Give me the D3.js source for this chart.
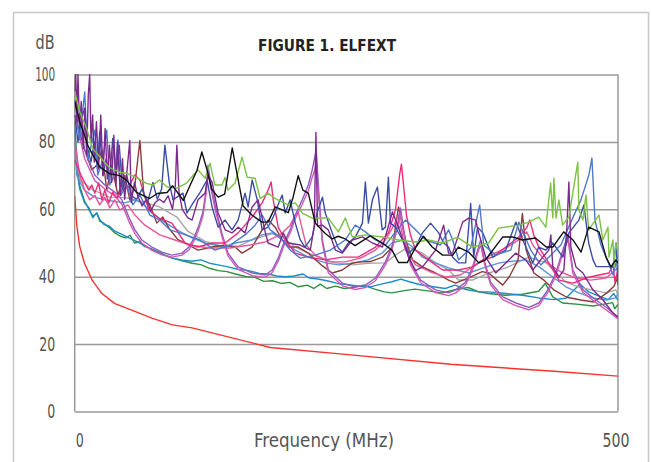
<!DOCTYPE html>
<html><head><meta charset="utf-8">
<script src="https://cdn.jsdelivr.net/npm/d3@7"></script>
<style>
body{margin:0;background:#fff}
text{font-family:'DejaVu Sans Condensed','DejaVu Sans',sans-serif}
</style>
</head><body>
<svg id="c" width="651" height="462"></svg>
<script>
// ---- data: [frequency MHz, dB] ----
const xTicks = [0, 500];
const yTicks = [0, 20, 40, 60, 80, 100];

const red = [[0,64],[2,55],[4.6,49],[9,44],[16,39],[25,35],[37,32],[53,30],[71,27.7],[90,25.7],[108,24.8],[180,19],[254,16.8],[346,14],[438,12],[500,10.5]];

const green = [[0,86],[1.8,76],[4.6,67],[9,62.5],[13,60],[16.6,58],[20.3,58.8],[23,56.5],[27,55.8],[32,54.5],[37,53],[42,52],[47,51.5],[51,52.3],[55,50],[60,50.4],[64,49],[69,48.5],[76,47.5],[83,46.5],[90,45.5],[98,44.8],[108,44],[116,43.6],[124,42.5],[132,41.8],[140,41.5],[148,40.8],[158,40],[166,39.8],[174,38.6],[182,38.8],[190,38],[198,38.3],[206,37],[214,37.5],[220,36.5],[226,37.8],[232,36.5],[240,37.2],[248,36.5],[256,36.8],[266,37.5],[276,36.3],[285,35.5],[292,35.2],[302,35.8],[313,36.3],[325,35.8],[338,35.2],[351,36.2],[362,36.8],[372,35.5],[381,35],[396,34.5],[412,34.8],[427,35.7],[433,38],[440,34],[449,32.2],[464,31.8],[477,31.3],[486,31.8],[495,32.3],[497,30.5],[500,31.8]];

const teal = [[0,83],[1.8,72],[4.6,66],[9,62],[13,60.5],[16.6,57.5],[20.3,59],[23,57],[27,55.5],[32,55],[37,53.5],[42,52.8],[48,51.8],[55,50.8],[62,49.6],[69,48.5],[76,47.2],[83,46.3],[90,45.5],[98,45],[108,44.6],[116,45],[124,44],[132,43.5],[140,43],[150,42.2],[160,41.8],[170,41],[178,40.8],[186,40.2],[194,40],[202,40.2],[210,40.8],[216,39.6],[224,39.3],[232,38.8],[242,38],[252,37.6],[262,37.2],[272,37],[282,37.8],[292,38.5],[300,39.3],[308,38.5],[318,37.6],[330,37],[341,36.5],[350,37.5],[360,36.2],[372,35.5],[381,35.5],[397,35],[412,34.5],[427,33.7],[441,33.2],[452,33.6],[465,37.8],[473,35.5],[482,34.3],[491,33.2],[496,35],[500,33]];

const lightblue = [[0,80],[2,70],[4,68.7],[9,65.7],[18,63.6],[28,62.8],[37,62.3],[46,61.9],[55,62.8],[62,61.9],[71,58.9],[80,56.8],[90,54.7],[99,53],[108,51.5],[120,50],[138,48.8],[148,50],[163,50.9],[172,52.4],[182,53],[191,50.9],[203,47.9],[215,45.8],[231,44.1],[243,43.5],[256,44],[270,45],[283,47],[292,50],[302,50.9],[311,48.8],[320,45.8],[332,44.1],[344,42.6],[351,42],[363,41.1],[376,42.6],[391,44.1],[397,44.4],[415,45],[427,43],[440,39.9],[452,37],[464,35.2],[477,33.7],[489,33.1],[498,33.7],[500,35]];

const gray = [[0,78],[5,68.7],[17,65.7],[32,63.6],[48,63.4],[63,62.2],[78,60.7],[94,57.7],[104,53.5],[120,50.5],[138,48.8],[152,49.2],[163,50.9],[182,52.8],[191,51.8],[203,48.8],[215,47],[231,45],[240,44.1],[256,43.5],[270,44],[286,44.1],[295,46.4],[307,48.8],[320,47],[332,44.1],[344,42],[353,39],[366,39],[381,41.1],[397,42.6],[418,45.8],[434,44.1],[443,41.1],[452,38.4],[464,36.9],[476,36.1],[489,35.2],[498,36.1],[500,34.5]];

const brown = [[0,88],[9.2,77.6],[15.7,71.7],[20.3,73.1],[25,77.6],[29.5,65.7],[34,73.1],[39.7,64.2],[46,70.1],[50.7,62.8],[55.4,67.2],[60,80.4],[63.6,64.2],[69.2,61.3],[75.6,55.9],[81,57.7],[87.6,54],[95,51],[101.5,50],[113.5,47.9],[126.4,48.8],[138.4,49.4],[147.6,48.8],[154,47],[163.3,48.8],[172.5,53.9],[178,56.8],[184.5,54.7],[191,50.9],[196.5,48.8],[205.7,48.8],[215,47],[228,43.2],[237,41.1],[246.3,42],[255.5,44.1],[264.8,44.4],[272,44.5],[283.2,45.8],[292.4,48.8],[298,60.7],[304.4,51],[310.9,45],[320.1,42.9],[332.1,41.1],[344.1,39],[350.6,38.1],[362,39.6],[375,41.5],[381,41.1],[393.9,37.5],[400,40],[408,45],[412,58.8],[415.4,48],[422.5,41.1],[431.7,39],[440.9,36.1],[452.9,33.9],[465.8,33.1],[477.8,32.5],[489.8,35.2],[496.3,37.2],[500,40]];

const pink2 = [[0,80.5],[4.6,70.2],[9.2,65.7],[13.8,62.8],[18.5,64.2],[23,61.3],[27.7,63.6],[32.3,60.4],[36.9,62.8],[41.5,59.8],[48.9,61.3],[55.4,58.3],[64.6,55.3],[78.4,52.4],[92.3,50.9],[106,49.4],[124.5,48.5],[143,48.5],[161.4,49.4],[175.3,50.3],[189,52.4],[198.3,55.3],[203,58.3],[205.7,59.2],[208.5,55.3],[213,49.4],[221.4,46.4],[235,44.4],[249,44.4],[263,45.5],[276.8,47.9],[286,50.9],[292.4,54.5],[298,58.3],[304.4,47.9],[313.7,43.5],[327.5,41.4],[341.3,39.9],[355,40.5],[369,43.5],[382.8,46.4],[396.7,48.5],[408.7,50.9],[416,53.3],[421.6,49.4],[433.6,44.4],[447.4,41.4],[461.3,39.6],[475,39],[488.9,39.6],[495.4,41.4],[500,42.6]];

const violet = [[0,92.4],[9.2,77.6],[18.5,70.2],[27.7,67.2],[36.9,65.1],[43.4,62.8],[49.8,57.7],[55.4,53.9],[61.8,50.9],[71,48.8],[80.3,47.3],[89.5,46.4],[98.7,47],[105.2,48.8],[108.9,50.9],[113.5,54.5],[118,59.2],[120.9,65.7],[122.7,73.1],[125.5,67.2],[129.2,61.3],[135.6,52.7],[141.1,47],[150.4,42.9],[163.3,41.1],[175.3,40.5],[181.7,42],[187.3,45.5],[192.8,50.3],[198.3,53.9],[203,58.3],[209.4,62.8],[215,67.2],[218.6,71.7],[222.3,77.6],[225.1,62.8],[227.9,50.9],[233.4,42],[246.3,38.1],[258.3,36.9],[267.5,37.5],[276.8,39.6],[286,44.4],[292.4,49.4],[297,55.3],[299.8,60.4],[303.5,52.4],[309,44.4],[318.3,39],[332.1,36.1],[344.1,35.2],[350.6,36.1],[359.8,38.4],[366.2,42.9],[370.8,47.9],[373.6,50.9],[377.3,44.4],[382.8,38.4],[393.9,34],[405.9,32.2],[417.9,30.9],[427.1,32.2],[435.4,36.1],[442.8,41.1],[449.3,47.9],[453.9,52.4],[458.5,42],[467.7,36.1],[479.7,33.1],[488.9,31],[500,28]];

const pinkviolet = [[0,88],[9.2,75],[18.5,68.5],[27.7,66],[36.9,64],[43.4,61.5],[49.8,56.5],[55.4,52.8],[61.8,50],[71,47.8],[80.3,46.5],[89.5,45.8],[98.7,46.4],[105.2,48],[108.9,50],[113.5,53.5],[118,58],[120.9,64.5],[122.7,71],[125.5,66],[129.2,60],[135.6,51.8],[141.1,46.2],[150.4,42.2],[163.3,40.3],[175.3,39.8],[181.7,41.2],[187.3,44.6],[192.8,49.4],[198.3,53],[203,57.2],[209.4,61.5],[215,65.5],[218.6,69.5],[222.3,73],[225.1,61.5],[227.9,50],[233.4,41.2],[246.3,37.3],[258.3,36.2],[267.5,36.8],[276.8,38.8],[286,43.5],[292.4,48.5],[297,54.5],[299.8,58.5],[303.5,51.5],[309,43.5],[318.3,38.2],[332.1,35.3],[344.1,34.4],[350.6,35.2],[359.8,37.6],[366.2,42],[370.8,47],[373.6,49.5],[377.3,43.6],[382.8,37.6],[393.9,33.2],[405.9,31.4],[417.9,30.2],[427.1,31.4],[435.4,35.3],[442.8,40.3],[449.3,47],[453.9,51],[458.5,41],[467.7,35.3],[479.7,32.3],[488.9,30.2],[500,27.5]];

const hotpink = [[0,74.6],[6.5,69.6],[13,65.7],[15.7,67.2],[18.5,64.8],[22,67.8],[25,62.8],[27.7,65.7],[31.4,61.9],[35,65.1],[38.7,63.4],[43.4,65.7],[49.8,66.6],[55.4,70.2],[60,68.7],[64.6,63.6],[68.3,59.8],[77.5,57.4],[89.5,55.9],[101.5,50],[113.5,48.8],[126.4,50],[138.4,50],[150.4,53],[163.3,57.7],[172.5,61.9],[178,65.7],[180.8,68.1],[182.7,62.8],[187.3,54.7],[193.7,50.9],[203,47],[215,45.8],[230.6,45],[246.3,45.8],[261,45.8],[276.8,48.8],[288.7,53],[295.2,59.8],[299,70.2],[300.7,73.4],[302.6,67.2],[305.3,58.3],[309,52.4],[313.7,47.9],[325.6,45],[338.6,42],[353.3,42],[366.2,42.9],[375.5,45],[384.7,45.8],[396.7,48.8],[408.7,51.8],[416,54.5],[418.8,56.8],[422.5,52.4],[427.1,48.8],[436.3,44.1],[445.6,39],[458.5,38.1],[470.5,39.6],[482.5,40.5],[491.7,41.1],[495.4,43.5],[497.2,38.4],[500,42]];

const darkblue = [[0,88],[3,80],[6,86],[9,90],[12,78],[15,74],[18,80],[21,72],[23,83],[26,70],[29,75],[32,68],[35,81],[38,70],[41,79],[44,66],[48,70],[52,64],[57,63],[62,66],[67,62],[72,68],[76,63],[80,66],[83,79],[87,68],[90.4,62.8],[99.6,64.8],[103.3,58.9],[109,61.9],[115,64.8],[121.8,68.7],[126.4,60.7],[132,54.7],[138.4,56.8],[144.8,53.9],[150.4,56.8],[156.8,64.8],[159.6,60.7],[163.3,68.7],[168,62.8],[172.5,53.9],[178,54.7],[182.7,57.7],[189,62.8],[191,64.2],[193.7,58.9],[198.3,62.8],[203,55.9],[207.6,50.9],[212,48.8],[218.6,51.8],[223,58.9],[228,63.6],[230.6,58.9],[237,53],[242.6,48.5],[246.3,47.3],[251.8,50],[258.3,51.8],[264.8,55.9],[267.5,68.1],[270.3,55.9],[274,62.8],[278.6,66.6],[283,53.9],[286,54.7],[288.7,69.5],[290.6,55.9],[295.2,54.7],[301.7,50.9],[307.2,47],[313.7,48.8],[320,53],[327.5,55.9],[335,53],[339.5,50],[344,48.8],[347.8,45.8],[353.3,44.1],[359.8,44.1],[364.4,61.7],[367.2,45.8],[370.8,54.7],[375.5,53],[384.7,45.8],[396.7,47.9],[406,56.2],[412.4,50.9],[421.6,44.1],[427,48.8],[433.6,47.9],[440,50],[449.3,45.8],[454.8,53],[464,56.8],[468.6,61.3],[473,50],[477,45],[480,43],[489,43],[495.4,43],[498.2,50],[500,37.5]];

const medblue = [[0,92.4],[4.6,80.6],[9.2,94.8],[12,74.6],[18.5,83.5],[21.2,70.2],[25.8,74.6],[29.5,83.5],[32.3,67.2],[36.9,70.2],[39.7,80.6],[42.4,64.2],[48,67.2],[53.5,61.3],[60,64.2],[69.2,58.3],[78.4,56.8],[87.6,53.9],[96.9,53],[115.3,50.9],[129,47.9],[143,49.4],[156.8,52.4],[166,55.3],[172.5,58.3],[179.9,53.9],[189,51.8],[198.3,47.9],[207.6,45.5],[221.4,46.4],[235.2,47.9],[249,50.9],[258.3,55.3],[267.5,53.3],[276.8,50.9],[286,49.4],[295.2,53.3],[304.4,56.8],[313.7,53.9],[322.9,50.9],[336.7,49.4],[344.1,53.9],[347.8,50.9],[353.3,45],[364.4,48.5],[372.7,61.3],[376.4,49.4],[387.5,46.4],[401.3,47.9],[408.7,56.2],[419.7,47.9],[428.9,43.5],[438.2,46.4],[447.4,49.4],[456.6,56.2],[465.9,62.8],[473.2,70.2],[476,75.2],[478.8,56.8],[484.3,49.4],[490.8,44.4],[495.4,40.5],[500,46.4]];

const purple = [[0,95],[1,100],[2,86],[3,100],[4.5,84],[6,92],[8,78],[9.5,90],[11,76],[12.5,94],[13.8,100],[15,80],[16.5,88],[18,74],[20,86],[22,72],[24,88],[26,70],[28,84],[30,69],[32,79],[34,68],[36,82],[38,67],[39.5,80],[42,64],[44,75],[46,63],[48,71],[50.7,80.4],[52,62],[55,68],[58,64],[62,61],[66,63],[70,59.5],[74,62],[78,63],[82,62],[86,64],[90,60],[92.5,66],[94,79],[96,65],[99,60],[104,57.5],[108,56.8],[113.5,62.8],[120,64.8],[122.7,70],[126.4,68.1],[132,58.9],[138.4,53.9],[144.8,53],[150.4,54.7],[156.8,53],[163.3,60.7],[168.8,62.8],[175.3,53.3],[178,50],[187.3,48.8],[191.9,53],[196.5,50],[207.6,49.4],[216.8,47.9],[220.5,55],[222,82.8],[223.5,55],[227.9,55.3],[233.4,53.9],[239.9,47.9],[246.3,47],[255.5,50.9],[264.8,51.8],[274,50],[283.2,48.8],[292.4,59.2],[298,54.7],[307.2,45.8],[313.7,41.8],[320.1,42.9],[332.1,47.9],[339.5,55.3],[344.1,47],[347.8,47],[357,56.2],[362.5,57.4],[369,56.8],[371.8,53],[378.2,45.8],[387.5,41.1],[396.7,44.1],[405.9,47],[415.1,45],[421.6,42],[430.8,45.8],[436.3,47.9],[438.2,52.4],[440,42.9],[445.6,39.9],[450.2,42],[453,55],[454.8,68.1],[456.6,48.8],[461.3,42.9],[467.7,41.1],[476.9,36.1],[486.2,33.1],[495.4,29.2],[500,28]];

const lightgreen = [[0,95],[4.6,89],[11,84],[16.6,78],[26,74.5],[32,72.4],[41.5,71],[48,70.7],[57,69.4],[66,67.7],[72,67.2],[78,68.7],[85,66.6],[94,66.3],[103,67.8],[110.7,70.7],[113.5,71.7],[120,69.2],[124.5,73.7],[129,67.2],[135.6,67.2],[138.4,69.5],[141,65.7],[147.6,67.8],[154,75.5],[158.7,69.5],[166,69.2],[170.7,63.2],[178,64.8],[184.5,63.2],[191,62.2],[196.5,61.3],[203,61.9],[209.4,58.9],[218.6,57.4],[233.4,57.4],[242.6,53.3],[249,57.4],[255.5,51.8],[267.5,52.4],[283,51.8],[298,50.9],[313.7,50.3],[325.6,50.9],[338.6,50],[350.6,51.5],[353,51.5],[366,48.8],[381,50],[390,54.4],[409,55.3],[418,56.2],[427,57.7],[433.6,54.7],[438,67.8],[440,57.4],[441,69.2],[443,57.4],[445.6,62.8],[449,55.3],[454.8,57.7],[463,74],[464,59.8],[467.7,56.8],[470.5,64.2],[473,53.9],[482.5,58.3],[486,50.9],[490.8,54.7],[491.7,45.8],[495.4,50.9],[496.3,42.9],[498,50],[500,47]];

const black = [[0,92],[4.6,86],[9,82],[12,79],[16,76.5],[23,72.6],[32,70.6],[41.5,70],[48,68.5],[57,65],[69,63.2],[76,64.7],[85,65],[90,67],[100,62.6],[106,67],[112.5,71.5],[117,77],[122,71.5],[126,66],[132,63.6],[138,64.5],[145,78.2],[150,69.5],[155,61],[163,58.3],[172.5,56.2],[178,56.2],[184.5,60.7],[191,59.8],[196.5,59],[201,63.6],[205.7,70],[210,65.7],[215,64.8],[221.4,55.9],[230.6,52.8],[237,51.2],[242.6,52],[249,51.2],[258,49.2],[272,52.1],[283,50],[292,47.9],[298,44.2],[306,44.2],[314,48.8],[321,52],[329,48.8],[338.6,46.4],[348,46.4],[353,48.8],[362.5,47.3],[372,44.1],[378,45],[394,51.8],[403,51.8],[412,50.9],[424,51.5],[434,48.8],[440,48.8],[450,53.3],[458.5,50.9],[466,47.3],[473,54.7],[482.5,53.3],[489,45.8],[493.5,42.9],[498,45],[500,44]];

const seriesData = [red, green, teal, gray, lightblue, brown, pink2, violet, pinkviolet, hotpink, darkblue, medblue, purple, lightgreen, black];
const seriesColors = ['#f5332d','#2e9142','#1e8ccc','#a8a8a8','#5b93d6','#8c3b3b','#e8559a','#8c5cc0','#d05ab0','#ee2a7b','#3b4ea6','#4f78cc','#7d2a8d','#7cc243','#111111'];

// ---- layout ----
const L = 74.7, R = 618, T = 74.5, B = 411.5;
const FONT = "'DejaVu Sans Condensed','DejaVu Sans',sans-serif";
const svg = d3.select('#c');
svg.append('rect').attr('x',13.5).attr('y',12.5).attr('width',635).attr('height',480)
  .attr('fill','none').attr('stroke','#c8c8c8').attr('stroke-width',1.5);

const x = d3.scaleLinear().domain([0,500]).range([L,R]);
const y = d3.scaleLinear().domain([0,100]).range([B,T]);

const yLabelWidth = {0:8, 20:16, 40:16.5, 60:16, 80:16.5, 100:20};
const yAxis = svg.append('g').attr('transform',`translate(${L},0)`)
  .call(d3.axisLeft(y).tickValues(yTicks).tickSize(-(R-L)).tickPadding(19.5).tickFormat(d3.format('d')));
yAxis.select('.domain').remove();
yAxis.selectAll('line').attr('stroke','#9a9a9a').attr('stroke-width',1.5);
yAxis.selectAll('text').attr('fill','#555').attr('font-size',19)
  .attr('textLength',d=>yLabelWidth[d]).attr('lengthAdjust','spacingAndGlyphs')
  .style('font-family',FONT);

svg.append('line').attr('x1',L).attr('x2',L).attr('y1',T).attr('y2',B).attr('stroke','#999').attr('stroke-width',1.5);
svg.append('line').attr('x1',R).attr('x2',R).attr('y1',T).attr('y2',B).attr('stroke','#999').attr('stroke-width',1.5);

svg.append('clipPath').attr('id','clip').append('rect').attr('x',L).attr('y',T-1).attr('width',R-L).attr('height',B-T+1);

const line = d3.line().x(d=>x(d[0])).y(d=>y(d[1]));
svg.append('g').attr('clip-path','url(#clip)')
  .selectAll('path').data(seriesData).join('path')
  .attr('d',line).attr('fill','none')
  .attr('stroke',(d,i)=>seriesColors[i]).attr('stroke-width',1.4).attr('stroke-linejoin','round');

function label(tx, ty, txt, size, w, opts={}) {
  return svg.append('text').attr('x',tx).attr('y',ty).attr('text-anchor','middle')
    .attr('font-size',size).attr('fill',opts.fill||'#555').attr('font-weight',opts.weight||'normal')
    .attr('textLength',w).attr('lengthAdjust','spacingAndGlyphs').style('font-family',FONT).text(txt);
}
label(x(xTicks[0])+5, 447, xTicks[0], 19, 8);
label(x(xTicks[1])-2, 447, xTicks[1], 19, 27);
label(324, 447, 'Frequency (MHz)', 19, 140);
label(45, 49, 'dB', 19, 19);
label(327, 51, 'FIGURE 1. ELFEXT', 16, 138, {fill:'#222', weight:'bold'});
</script>
</body></html>
